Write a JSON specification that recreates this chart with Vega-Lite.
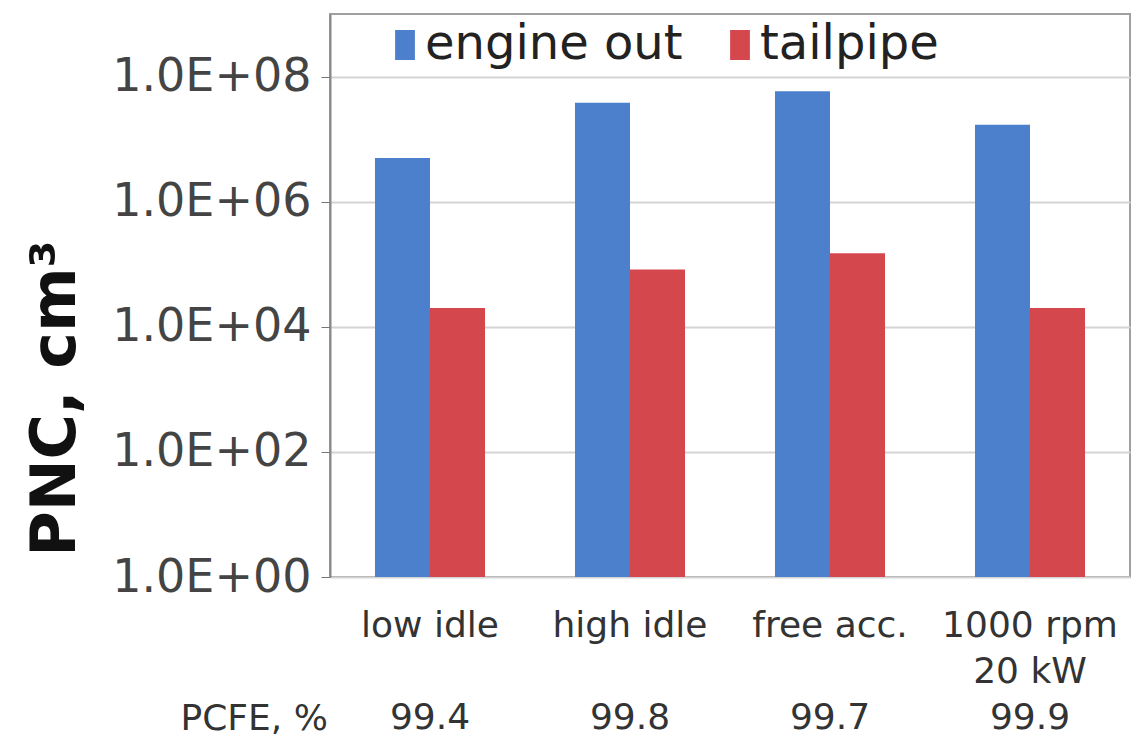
{
  "$schema": "https://vega.github.io/schema/vega-lite/v6.json",
  "width": 800,
  "height": 563,
  "autosize": {"type": "none"},
  "padding": {"left": 330, "top": 14, "right": 10, "bottom": 159},
  "background": "white",
  "config": {
    "font": "DejaVu Sans",
    "view": {"stroke": "#a0a0a0", "strokeWidth": 2}
  },
  "data": {
    "values": [
      {"mode": "low idle", "source": "engine out", "pnc": 5000000},
      {"mode": "low idle", "source": "tailpipe", "pnc": 20000},
      {"mode": "high idle", "source": "engine out", "pnc": 38000000},
      {"mode": "high idle", "source": "tailpipe", "pnc": 82000},
      {"mode": "free acc.", "source": "engine out", "pnc": 58000000},
      {"mode": "free acc.", "source": "tailpipe", "pnc": 150000},
      {"mode": "1000 rpm 20 kW", "source": "engine out", "pnc": 17000000},
      {"mode": "1000 rpm 20 kW", "source": "tailpipe", "pnc": 20000}
    ]
  },
  "mark": {"type": "bar"},
  "encoding": {
    "x": {
      "field": "mode",
      "type": "nominal",
      "sort": ["low idle", "high idle", "free acc.", "1000 rpm 20 kW"],
      "scale": {"paddingInner": 0.45, "paddingOuter": 0.225},
      "axis": {
        "domain": false,
        "ticks": false,
        "labelAngle": 0,
        "labelFontSize": 36,
        "labelColor": "#333333",
        "labelLineHeight": {"expr": "datum.value == '1000 rpm 20 kW' ? 46 : 92"},
        "labelBaseline": "top",
        "labelPadding": 31,
        "labelLimit": 300,
        "labelExpr": "datum.value == 'low idle' ? ['low idle', '99.4'] : datum.value == 'high idle' ? ['high idle', '99.8'] : datum.value == 'free acc.' ? ['free acc.', '99.7'] : ['1000 rpm', '20 kW', '99.9']",
        "title": "PCFE, %",
        "titleFontSize": 36,
        "titleFontWeight": "normal",
        "titleColor": "#333333",
        "titleAlign": "left",
        "titleBaseline": "middle",
        "titleX": -150,
        "titleY": 141
      }
    },
    "xOffset": {
      "field": "source",
      "type": "nominal",
      "sort": ["engine out", "tailpipe"],
      "scale": {"paddingInner": 0, "paddingOuter": 0}
    },
    "y": {
      "field": "pnc",
      "type": "quantitative",
      "stack": null,
      "scale": {"type": "log", "domain": [1, 1000000000], "nice": false},
      "axis": {
        "values": [1, 100, 10000, 1000000, 100000000],
        "labelExpr": "'1.0E+0' + round(log(datum.value) / LN10)",
        "labelFontSize": 46,
        "labelLimit": 320,
        "labelColor": "#444444",
        "labelPadding": 10,
        "tickSize": 9,
        "tickColor": "#777777",
        "domainColor": "#888888",
        "domainWidth": 2,
        "grid": true,
        "gridColor": "#d4d4d4",
        "gridWidth": 2,
        "title": "PNC, cm³",
        "titleFont": "DejaVu Sans",
        "titleFontSize": 62,
        "titleFontWeight": "bold",
        "titleColor": "#111111",
        "titleX": -275,
        "titleY": 384,
        "titleAngle": -90,
        "titleBaseline": "middle",
        "titleAlign": "center"
      }
    },
    "color": {
      "field": "source",
      "type": "nominal",
      "sort": ["engine out", "tailpipe"],
      "scale": {"domain": ["engine out", "tailpipe"], "range": ["#4d80cc", "#d4474c"]},
      "legend": {
        "title": null,
        "orient": "none",
        "legendX": 45,
        "legendY": 1,
        "direction": "horizontal",
        "columns": 2,
        "columnPadding": 27,
        "symbolType": "M-0.33,-0.5H0.33V0.5H-0.33Z",
        "symbolSize": 3600,
        "symbolStrokeWidth": 0,
        "labelFontSize": 48,
        "labelLimit": 400,
        "labelColor": "#222222",
        "labelOffset": -10
      }
    }
  }
}
